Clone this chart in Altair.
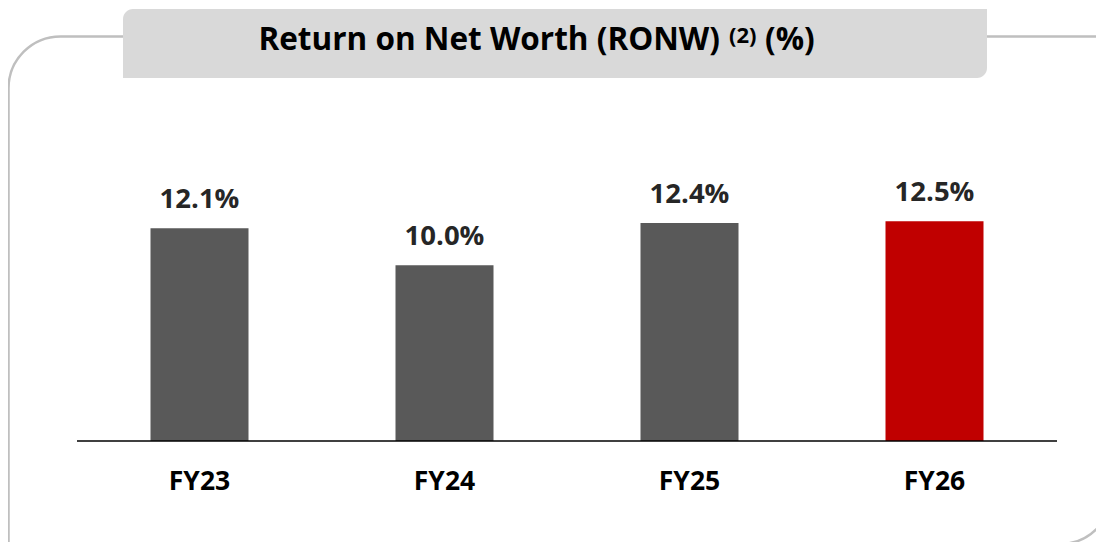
import altair as alt
import pandas as pd

# ---- data ----
categories = ["FY23", "FY24", "FY25", "FY26"]
values = [12.1, 10.0, 12.4, 12.5]
labels = ["12.1%", "10.0%", "12.4%", "12.5%"]
bar_colors = ["#595959", "#595959", "#595959", "#c00000"]

title_main = "Return on Net Worth (RONW)"
title_sup = "(2)"
title_unit = "(%)"

FONT = "Open Sans"

df = pd.DataFrame({"cat": categories, "val": values, "lab": labels, "col": bar_colors})
one = pd.DataFrame({"k": [0]})

xscale = alt.Scale(domain=categories, range=[69, 1049], paddingInner=0.6, paddingOuter=0.3)
yscale = alt.Scale(domain=[0, 14], range=[433, 433 - 14 * 17.58])

frame = alt.Chart(one).mark_rect(
    fill="white", fillOpacity=0, stroke="#bfbfbf", strokeWidth=2.5,
    cornerRadiusTopLeft=52, cornerRadiusBottomRight=52,
).encode(x=alt.value(0.5), x2=alt.value(1104), y=alt.value(28.5), y2=alt.value(536))

title_box = alt.Chart(one).mark_rect(
    fill="#d9d9d9", cornerRadiusTopLeft=10, cornerRadiusBottomRight=10,
).encode(x=alt.value(115), x2=alt.value(979), y=alt.value(1), y2=alt.value(70))

t_main = alt.Chart(one).mark_text(
    text=title_main, font=FONT, fontWeight="bold", fontSize=31.5, align="right",
    baseline="alphabetic", color="#000000",
).encode(x=alt.value(712), y=alt.value(42))

t_sup = alt.Chart(one).mark_text(
    text=title_sup, font=FONT, fontWeight="bold", fontSize=22, align="left",
    baseline="alphabetic", color="#000000",
).encode(x=alt.value(721), y=alt.value(35))

t_unit = alt.Chart(one).mark_text(
    text=title_unit, font=FONT, fontWeight="bold", fontSize=31.5, align="left",
    baseline="alphabetic", color="#000000",
).encode(x=alt.value(757), y=alt.value(42))

bars = alt.Chart(df).mark_bar().encode(
    x=alt.X("cat:N", scale=xscale, axis=None, sort=categories),
    y=alt.Y("val:Q", scale=yscale, axis=None),
    color=alt.Color("col:N", scale=None),
)

value_text = alt.Chart(df).mark_text(
    font=FONT, fontWeight="bold", fontSize=27.5, baseline="alphabetic", dy=-20, color="#262626",
).encode(
    x=alt.X("cat:N", scale=xscale, axis=None, sort=categories),
    y=alt.Y("val:Q", scale=yscale, axis=None),
    text="lab:N",
)

baseline = alt.Chart(one).mark_rule(color="#000000", strokeWidth=1.5).encode(
    x=alt.value(69), x2=alt.value(1049), y=alt.value(433),
)

cat_text = alt.Chart(df).mark_text(
    font=FONT, fontWeight="bold", fontSize=26.5, baseline="alphabetic", color="#000000",
).encode(
    x=alt.X("cat:N", scale=xscale, axis=None, sort=categories),
    y=alt.value(482),
    text="cat:N",
)

chart = alt.layer(
    frame, title_box, t_main, t_sup, t_unit, bars, baseline, value_text, cat_text
).properties(
    width=1088, height=534, autosize=alt.AutoSizeParams(type="none"), padding=0,
    background="white",
).configure_view(stroke=None)

chart.save("out.html", embed_options={"renderer": "svg", "actions": False})
